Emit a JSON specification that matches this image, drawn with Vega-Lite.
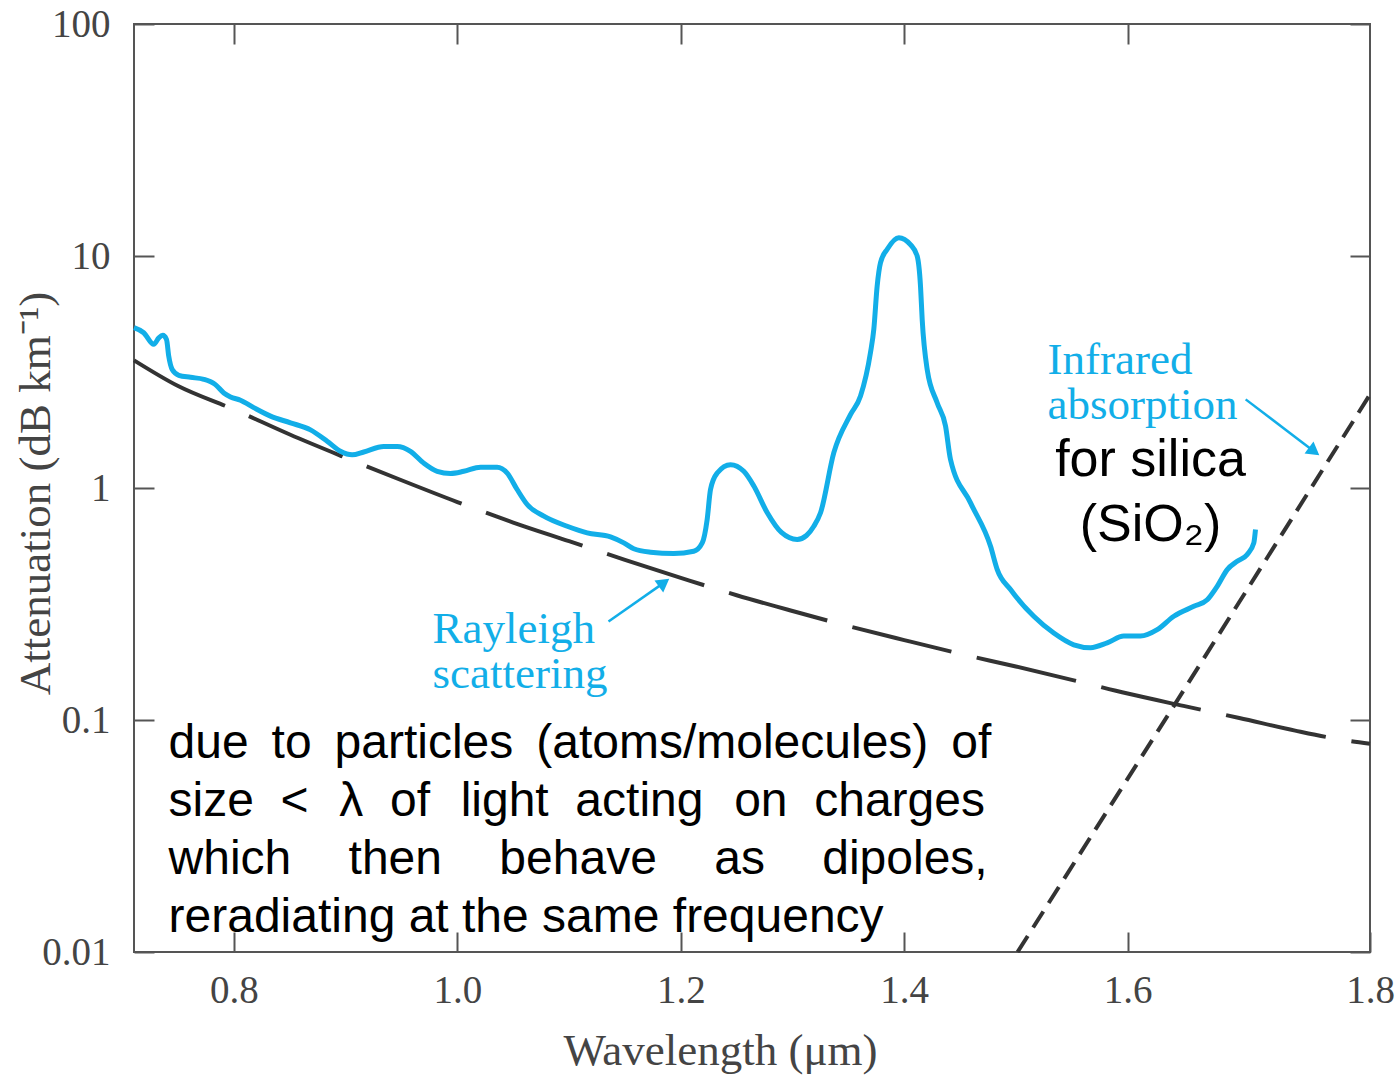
{
  "$schema": "https://vega.github.io/schema/vega-lite/v6.json",
  "width": 1236,
  "height": 928,
  "autosize": {"type": "none"},
  "padding": {"left": 134, "top": 24, "right": 28, "bottom": 126},
  "background": "white",
  "config": {"view": {"stroke": "#555555", "strokeWidth": 2}},
  "datasets": {
    "measured": [
      {"w": 0.7105, "a": 4.91}, {"w": 0.7192, "a": 4.67}, {"w": 0.7282, "a": 4.16}, {"w": 0.7327, "a": 4.44},
      {"w": 0.7363, "a": 4.55}, {"w": 0.7396, "a": 4.37}, {"w": 0.7416, "a": 3.70}, {"w": 0.7447, "a": 3.24},
      {"w": 0.7506, "a": 3.06}, {"w": 0.7611, "a": 3.00}, {"w": 0.7730, "a": 2.94}, {"w": 0.7834, "a": 2.79},
      {"w": 0.7909, "a": 2.57}, {"w": 0.7969, "a": 2.47}, {"w": 0.8058, "a": 2.39}, {"w": 0.8177, "a": 2.22},
      {"w": 0.8327, "a": 2.04}, {"w": 0.8506, "a": 1.91}, {"w": 0.8685, "a": 1.78}, {"w": 0.8834, "a": 1.59},
      {"w": 0.8953, "a": 1.44}, {"w": 0.9058, "a": 1.39}, {"w": 0.9162, "a": 1.43}, {"w": 0.9341, "a": 1.51},
      {"w": 0.9461, "a": 1.51}, {"w": 0.9580, "a": 1.44}, {"w": 0.9699, "a": 1.28}, {"w": 0.9819, "a": 1.18},
      {"w": 0.9938, "a": 1.155}, {"w": 1.0057, "a": 1.18}, {"w": 1.0207, "a": 1.23}, {"w": 1.0356, "a": 1.23},
      {"w": 1.0446, "a": 1.16}, {"w": 1.0535, "a": 0.985}, {"w": 1.0625, "a": 0.849}, {"w": 1.0774, "a": 0.756},
      {"w": 1.0983, "a": 0.684}, {"w": 1.1162, "a": 0.641}, {"w": 1.1371, "a": 0.616}, {"w": 1.1490, "a": 0.580},
      {"w": 1.1579, "a": 0.547}, {"w": 1.1729, "a": 0.529}, {"w": 1.1937, "a": 0.522}, {"w": 1.2116, "a": 0.534},
      {"w": 1.2192, "a": 0.580}, {"w": 1.2236, "a": 0.731}, {"w": 1.2266, "a": 0.985}, {"w": 1.2326, "a": 1.16},
      {"w": 1.2445, "a": 1.26}, {"w": 1.2564, "a": 1.18}, {"w": 1.2654, "a": 1.02}, {"w": 1.2773, "a": 0.784},
      {"w": 1.2901, "a": 0.643}, {"w": 1.3042, "a": 0.600}, {"w": 1.3125, "a": 0.624}, {"w": 1.3191, "a": 0.684},
      {"w": 1.3251, "a": 0.782}, {"w": 1.3370, "a": 1.42}, {"w": 1.3519, "a": 2.07}, {"w": 1.3609, "a": 2.49},
      {"w": 1.3698, "a": 3.83}, {"w": 1.3728, "a": 4.83}, {"w": 1.3758, "a": 7.42}, {"w": 1.3788, "a": 9.36},
      {"w": 1.3848, "a": 10.7}, {"w": 1.3952, "a": 12.0}, {"w": 1.4056, "a": 11.2}, {"w": 1.4116, "a": 10.0},
      {"w": 1.4146, "a": 7.42}, {"w": 1.4161, "a": 5.33}, {"w": 1.4206, "a": 3.24}, {"w": 1.4295, "a": 2.33},
      {"w": 1.4370, "a": 1.85}, {"w": 1.4414, "a": 1.33}, {"w": 1.4594, "a": 0.863}, {"w": 1.4773, "a": 0.561},
      {"w": 1.4833, "a": 0.445}, {"w": 1.4952, "a": 0.365}, {"w": 1.5160, "a": 0.280}, {"w": 1.5339, "a": 0.237},
      {"w": 1.5518, "a": 0.211}, {"w": 1.5668, "a": 0.205}, {"w": 1.5817, "a": 0.215}, {"w": 1.5966, "a": 0.230},
      {"w": 1.6115, "a": 0.230}, {"w": 1.6265, "a": 0.245}, {"w": 1.6414, "a": 0.280}, {"w": 1.6593, "a": 0.309},
      {"w": 1.6713, "a": 0.330}, {"w": 1.6802, "a": 0.377}, {"w": 1.6892, "a": 0.445}, {"w": 1.6981, "a": 0.483},
      {"w": 1.7071, "a": 0.517}, {"w": 1.7130, "a": 0.580}, {"w": 1.7145, "a": 0.662}
    ],
    "rayleigh": [
      {"w": 0.7105, "a": 3.55}, {"w": 0.75, "a": 2.75}, {"w": 0.8, "a": 2.18}, {"w": 0.85, "a": 1.70},
      {"w": 0.9, "a": 1.35}, {"w": 0.95, "a": 1.08}, {"w": 1.0, "a": 0.87}, {"w": 1.05, "a": 0.71},
      {"w": 1.1, "a": 0.59}, {"w": 1.15, "a": 0.49}, {"w": 1.2, "a": 0.41}, {"w": 1.25, "a": 0.345},
      {"w": 1.3, "a": 0.295}, {"w": 1.35, "a": 0.254}, {"w": 1.4, "a": 0.221}, {"w": 1.45, "a": 0.193},
      {"w": 1.5, "a": 0.17}, {"w": 1.55, "a": 0.149}, {"w": 1.6, "a": 0.13}, {"w": 1.65, "a": 0.115},
      {"w": 1.7, "a": 0.102}, {"w": 1.75, "a": 0.09}, {"w": 1.8, "a": 0.081}, {"w": 1.817, "a": 0.079}
    ],
    "infrared": [
      {"w": 1.5015, "a": 0.01}, {"w": 1.6414, "a": 0.115}, {"w": 1.817, "a": 2.53}
    ],
    "arrows": [
      {"w": 1.1353, "a": 0.2657, "w2": 1.185, "a2": 0.391},
      {"w": 1.7057, "a": 2.41, "w2": 1.767, "a2": 1.438}
    ],
    "headR": [{"w": 1.185, "a": 0.391}],
    "headI": [{"w": 1.767, "a": 1.438}],
    "blueLabels": [
      {"w": 1.5283, "a": 3.087, "t": "Infrared"},
      {"w": 1.5283, "a": 1.974, "t": "absorption"},
      {"w": 0.9777, "a": 0.2158, "t": "Rayleigh"},
      {"w": 0.9777, "a": 0.1379, "t": "scattering"}
    ],
    "silica": [
      {"w": 1.6205, "a": 1.124, "t": "for silica"},
      {"w": 1.6205, "a": 0.5897, "t": "(SiO₂)"}
    ],
    "note": [
      {"w": 0.7414, "a": 0.0688, "t": "due \u2009to \u2009particles \u2009(atoms/molecules) \u2009of"},
      {"w": 0.7414, "a": 0.0387, "t": "size\u00a0 <\u00a0\u200a λ\u00a0 of\u00a0\u200a light\u00a0 acting\u00a0\u200a on\u00a0 charges"},
      {"w": 0.7414, "a": 0.02176, "t": "which\u00a0\u00a0\u00a0\u200a then\u00a0\u00a0\u00a0\u200a behave\u00a0\u00a0\u00a0\u200a as\u00a0\u00a0\u00a0\u200a dipoles,"},
      {"w": 0.7414, "a": 0.01224, "t": "reradiating at the same frequency"}
    ]
  },
  "layer": [
    {
      "data": {"name": "rayleigh"},
      "mark": {"type": "line", "color": "#333333", "strokeWidth": 4, "strokeDash": [102, 26], "strokeCap": "butt", "interpolate": "monotone"},
      "encoding": {
        "x": {"field": "w", "type": "quantitative", "scale": {"domain": [0.7105, 1.817], "nice": false, "zero": false},
          "axis": {"orient": "top", "values": [0.8, 1.0, 1.2, 1.4, 1.6], "labels": false, "tickSize": -20, "tickWidth": 2, "tickColor": "#555555", "domain": false, "grid": false, "title": null}},
        "y": {"field": "a", "type": "quantitative", "scale": {"type": "log", "domain": [0.01, 100], "nice": false},
          "axis": {"orient": "right", "values": [0.01, 0.1, 1, 10, 100], "labels": false, "tickSize": -20, "tickWidth": 2, "tickColor": "#555555", "domain": false, "grid": false, "title": null}}
      }
    },
    {
      "data": {"name": "infrared"},
      "mark": {"type": "line", "color": "#333333", "strokeWidth": 4, "strokeDash": [19, 10], "strokeCap": "butt"},
      "encoding": {
        "x": {"field": "w", "type": "quantitative", "scale": {"domain": [0.7105, 1.817], "nice": false, "zero": false}, "axis": null},
        "y": {"field": "a", "type": "quantitative", "scale": {"type": "log", "domain": [0.01, 100], "nice": false}, "axis": null}
      }
    },
    {
      "data": {"name": "measured"},
      "mark": {"type": "line", "color": "#12aee8", "strokeWidth": 5, "interpolate": "monotone"},
      "encoding": {
        "x": {"field": "w", "type": "quantitative", "scale": {"domain": [0.7105, 1.817], "nice": false, "zero": false},
          "axis": {"orient": "bottom", "values": [0.8, 1.0, 1.2, 1.4, 1.6, 1.817],
            "labelExpr": "datum.value > 1.7 ? '1.8' : format(datum.value, '.1f')",
            "tickSize": -20, "tickWidth": 2, "tickColor": "#555555", "domain": false, "grid": false,
            "labelFont": "Liberation Serif", "labelFontSize": 39, "labelColor": "#444444", "labelPadding": 39,
            "labelFlush": false, "labelOverlap": false,
            "title": "Wavelength (μm)", "titleFont": "Liberation Serif", "titleFontSize": 45, "titleFontWeight": "normal",
            "titleColor": "#444444", "titleX": 586, "titleY": 112, "titleBaseline": "alphabetic", "titleAlign": "center"}},
        "y": {"field": "a", "type": "quantitative", "scale": {"type": "log", "domain": [0.01, 100], "nice": false},
          "axis": {"orient": "left", "values": [0.01, 0.1, 1, 10, 100], "format": "~g",
            "tickSize": -20, "tickWidth": 2, "tickColor": "#555555", "domain": false, "grid": false,
            "labelFont": "Liberation Serif", "labelFontSize": 39, "labelColor": "#444444", "labelPadding": 44,
            "labelFlush": false, "labelOverlap": false,
            "title": "Attenuation (dB km⁻¹)", "titleFont": "Liberation Serif", "titleFontSize": 45, "titleFontWeight": "normal",
            "titleColor": "#444444", "titleX": -85, "titleY": 469, "titleBaseline": "alphabetic", "titleAlign": "center", "titleAngle": -90}}
      }
    },
    {
      "data": {"name": "arrows"},
      "mark": {"type": "rule", "color": "#12aee8", "strokeWidth": 2.5},
      "encoding": {
        "x": {"field": "w", "type": "quantitative", "scale": {"domain": [0.7105, 1.817], "nice": false, "zero": false}, "axis": null},
        "x2": {"field": "w2"},
        "y": {"field": "a", "type": "quantitative", "scale": {"type": "log", "domain": [0.01, 100], "nice": false}, "axis": null},
        "y2": {"field": "a2"}
      }
    },
    {
      "data": {"name": "headR"},
      "mark": {"type": "point", "shape": "triangle-up", "filled": true, "color": "#12aee8", "opacity": 1, "size": 220, "angle": 54},
      "encoding": {
        "x": {"field": "w", "type": "quantitative", "scale": {"domain": [0.7105, 1.817], "nice": false, "zero": false}, "axis": null},
        "y": {"field": "a", "type": "quantitative", "scale": {"type": "log", "domain": [0.01, 100], "nice": false}, "axis": null}
      }
    },
    {
      "data": {"name": "headI"},
      "mark": {"type": "point", "shape": "triangle-up", "filled": true, "color": "#12aee8", "opacity": 1, "size": 220, "angle": 127},
      "encoding": {
        "x": {"field": "w", "type": "quantitative", "scale": {"domain": [0.7105, 1.817], "nice": false, "zero": false}, "axis": null},
        "y": {"field": "a", "type": "quantitative", "scale": {"type": "log", "domain": [0.01, 100], "nice": false}, "axis": null}
      }
    },
    {
      "data": {"name": "blueLabels"},
      "mark": {"type": "text", "font": "Liberation Serif", "fontSize": 45, "color": "#12aee8", "align": "left", "baseline": "alphabetic"},
      "encoding": {
        "x": {"field": "w", "type": "quantitative", "scale": {"domain": [0.7105, 1.817], "nice": false, "zero": false}, "axis": null},
        "y": {"field": "a", "type": "quantitative", "scale": {"type": "log", "domain": [0.01, 100], "nice": false}, "axis": null},
        "text": {"field": "t"}
      }
    },
    {
      "data": {"name": "silica"},
      "mark": {"type": "text", "font": "Liberation Sans", "fontSize": 52, "color": "#000000", "align": "center", "baseline": "alphabetic"},
      "encoding": {
        "x": {"field": "w", "type": "quantitative", "scale": {"domain": [0.7105, 1.817], "nice": false, "zero": false}, "axis": null},
        "y": {"field": "a", "type": "quantitative", "scale": {"type": "log", "domain": [0.01, 100], "nice": false}, "axis": null},
        "text": {"field": "t"}
      }
    },
    {
      "data": {"name": "note"},
      "mark": {"type": "text", "font": "Liberation Sans", "fontSize": 48, "color": "#000000", "align": "left", "baseline": "alphabetic"},
      "encoding": {
        "x": {"field": "w", "type": "quantitative", "scale": {"domain": [0.7105, 1.817], "nice": false, "zero": false}, "axis": null},
        "y": {"field": "a", "type": "quantitative", "scale": {"type": "log", "domain": [0.01, 100], "nice": false}, "axis": null},
        "text": {"field": "t"}
      }
    }
  ],
  "resolve": {"axis": {"x": "independent", "y": "independent"}}
}
